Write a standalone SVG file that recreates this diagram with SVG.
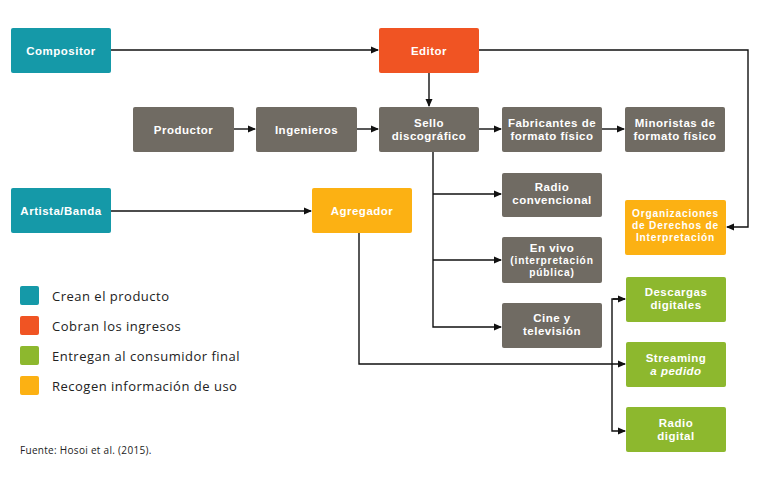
<svg xmlns="http://www.w3.org/2000/svg" width="774" height="494" viewBox="0 0 774 494">
<defs>
<marker id="ah" markerWidth="8" markerHeight="8" refX="7" refY="4" orient="auto" markerUnits="userSpaceOnUse">
<path d="M0,0.5 L8,4 L0,7.5 Z" fill="#111"/>
</marker>
<style>
.teal{fill:#1599a8}
.red{fill:#f05423}
.gray{fill:#706b63}
.green{fill:#8db82e}
.amber{fill:#fcb113}
.t{font-family:"Liberation Sans",Arial,sans-serif;font-weight:700;font-size:11.5px;letter-spacing:0.5px;fill:#fff;text-anchor:middle}
.s{font-size:10.2px;letter-spacing:0.8px}
.c{fill:none;stroke:#111;stroke-width:1.4}
.lg{font-family:"Open Sans","Liberation Sans",sans-serif;font-size:13px;letter-spacing:0.5px;fill:#222}
.src{font-family:"Open Sans","Liberation Sans",sans-serif;font-size:10px;letter-spacing:0.3px;fill:#222}
</style>
</defs>
<rect width="774" height="494" fill="#fff"/>
<g id="connectors">
<path class="c" d="M111,50 H378" marker-end="url(#ah)"/>
<path class="c" d="M479,50 H748 V227 H727" marker-end="url(#ah)"/>
<path class="c" d="M429,73 V106" marker-end="url(#ah)"/>
<path class="c" d="M234,129 H255" marker-end="url(#ah)"/>
<path class="c" d="M357,129 H378" marker-end="url(#ah)"/>
<path class="c" d="M479,129 H501" marker-end="url(#ah)"/>
<path class="c" d="M602,129 H624" marker-end="url(#ah)"/>
<path class="c" d="M433,152 V327 H501" marker-end="url(#ah)"/>
<path class="c" d="M433,194 H501" marker-end="url(#ah)"/>
<path class="c" d="M433,260 H501" marker-end="url(#ah)"/>
<path class="c" d="M111,211 H311" marker-end="url(#ah)"/>
<path class="c" d="M359,233 V364 H625" marker-end="url(#ah)"/>
<path class="c" d="M625,299 H612 V431 H625" marker-end="url(#ah)"/>
<path class="c" d="M613,299 H625" marker-end="url(#ah)"/>
</g>
<g id="compositor"><rect class="teal" x="11" y="28" width="100" height="45" rx="2"/><text class="t" x="61" y="54.5">Compositor</text></g>
<g id="editor"><rect class="red" x="379" y="28" width="100" height="45" rx="2"/><text class="t" x="429" y="54.5">Editor</text></g>
<g id="productor"><rect class="gray" x="133" y="107" width="101" height="45" rx="2"/><text class="t" x="183.5" y="133.5">Productor</text></g>
<g id="ingenieros"><rect class="gray" x="256" y="107" width="101" height="45" rx="2"/><text class="t" x="306.5" y="133.5">Ingenieros</text></g>
<g id="sello"><rect class="gray" x="379" y="107" width="100" height="45" rx="2"/><text class="t" x="429" y="126.5">Sello</text><text class="t" x="429" y="139.7">discográfico</text></g>
<g id="fabricantes"><rect class="gray" x="502" y="107" width="100" height="45" rx="2"/><text class="t" x="552" y="126.5">Fabricantes de</text><text class="t" x="552" y="139.7">formato físico</text></g>
<g id="minoristas"><rect class="gray" x="625" y="107" width="100" height="45" rx="2"/><text class="t" x="675" y="126.5">Minoristas de</text><text class="t" x="675" y="139.7">formato físico</text></g>
<g id="artista"><rect class="teal" x="11" y="188" width="100" height="45" rx="2"/><text class="t" x="61" y="214.5">Artista/Banda</text></g>
<g id="agregador"><rect class="amber" x="312" y="188" width="100" height="45" rx="2"/><text class="t" x="362" y="214.5">Agregador</text></g>
<g id="radioconv"><rect class="gray" x="502" y="173" width="100" height="44" rx="2"/><text class="t" x="552" y="191">Radio</text><text class="t" x="552" y="204.2">convencional</text></g>
<g id="organizaciones"><rect class="amber" x="625" y="200" width="101" height="55" rx="2"/><text class="t s" x="675.5" y="217">Organizaciones</text><text class="t s" x="675.5" y="229">de Derechos de</text><text class="t s" x="675.5" y="241">Interpretación</text></g>
<g id="envivo"><rect class="gray" x="502" y="237" width="100" height="46" rx="2"/><text class="t" x="552" y="251.5">En vivo</text><text class="t s" x="552" y="264">(interpretación</text><text class="t s" x="552" y="275.5">pública)</text></g>
<g id="cine"><rect class="gray" x="502" y="303" width="100" height="45" rx="2"/><text class="t" x="552" y="321.5">Cine y</text><text class="t" x="552" y="334.7">televisión</text></g>
<g id="descargas"><rect class="green" x="626" y="277" width="100" height="45" rx="2"/><text class="t" x="676" y="296">Descargas</text><text class="t" x="676" y="309.2">digitales</text></g>
<g id="streaming"><rect class="green" x="626" y="342" width="100" height="45" rx="2"/><text class="t" x="676" y="361.5">Streaming</text><text class="t" x="676" y="374.7" font-style="italic">a pedido</text></g>
<g id="radiodigital"><rect class="green" x="626" y="407" width="100" height="45" rx="2"/><text class="t" x="676" y="426.5">Radio</text><text class="t" x="676" y="439.7">digital</text></g>
<g id="legend">
<rect class="teal" x="20" y="286" width="19" height="19" rx="2"/><text class="lg" x="52" y="300.5">Crean el producto</text>
<rect class="red" x="20" y="316" width="19" height="19" rx="2"/><text class="lg" x="52" y="330.5">Cobran los ingresos</text>
<rect class="green" x="20" y="346" width="19" height="19" rx="2"/><text class="lg" x="52" y="360.5">Entregan al consumidor final</text>
<rect class="amber" x="20" y="376" width="19" height="19" rx="2"/><text class="lg" x="52" y="390.5">Recogen información de uso</text>
<text class="src" x="20" y="454">Fuente: Hosoi et al. (2015).</text>
</g>
</svg>
